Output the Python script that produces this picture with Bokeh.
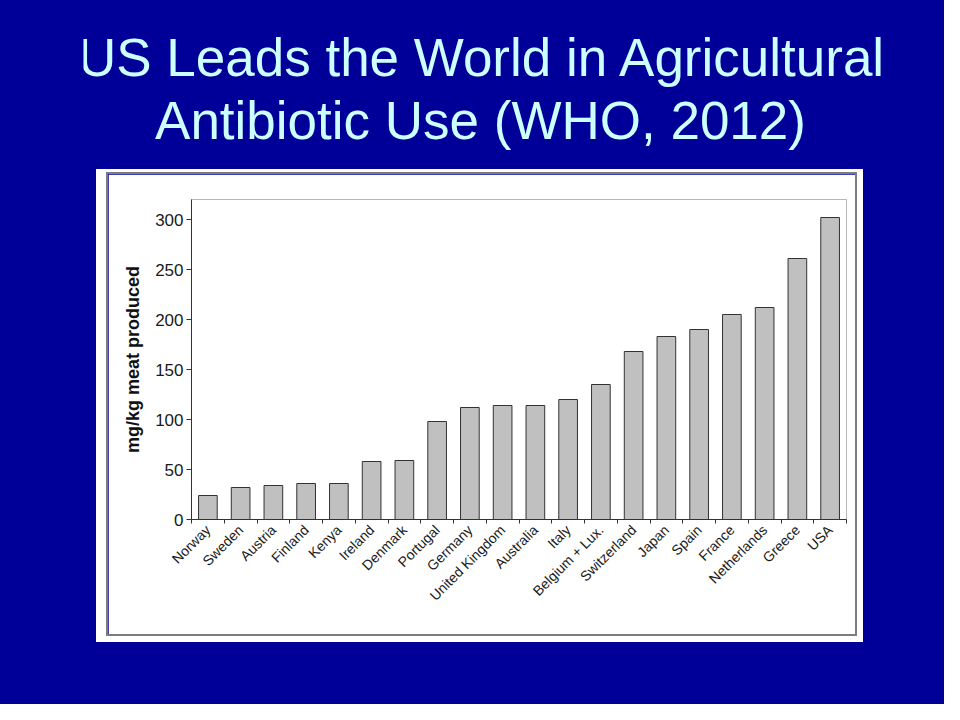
import math
from bokeh.plotting import figure
from bokeh.layouts import column
from bokeh.models import Range1d, FixedTicker, Label, ColumnDataSource
from bokeh.embed import file_html
from bokeh.resources import INLINE

# ---- data ----
countries = ["Norway", "Sweden", "Austria", "Finland", "Kenya", "Ireland", "Denmark",
             "Portugal", "Germany", "United Kingdom", "Australia", "Italy",
             "Belgium + Lux.", "Switzerland", "Japan", "Spain", "France",
             "Netherlands", "Greece", "USA"]
values = [24, 32, 34, 36, 36, 58, 59, 98, 112, 114, 114, 120, 135, 168, 183, 190,
          205, 212, 261, 302]
y_ticks = [0, 50, 100, 150, 200, 250, 300]
title_lines = ["US Leads the World in Agricultural", "Antibiotic Use (WHO, 2012)"]
y_label = "mg/kg meat produced"

SLIDE_BLUE = "#000099"
TITLE_COL = "#CCFFFF"
FONT = "Liberation Sans"
W, H = 944, 704

# ---- slide title (a figure whose frame is the blue strip) ----
CARD_L, CARD_T, CARD_R, CARD_B = 108, 174, 855, 634   # inside of the gray card border
title_h = CARD_T
tf = figure(width=W, height=title_h, output_backend="svg", toolbar_location=None,
            x_range=Range1d(0, W), y_range=Range1d(0, title_h),
            min_border=0, min_border_left=0, min_border_right=0,
            min_border_top=0, min_border_bottom=0)
tf.axis.visible = False
tf.grid.visible = False
tf.outline_line_color = None
tf.background_fill_color = SLIDE_BLUE
tf.border_fill_color = SLIDE_BLUE
# frame of the title strip sits at an offset inside the canvas (measured)
OFF_X, OFF_Y = 83, 18
for line, cx, base in zip(title_lines, [482, 480], [75, 138]):
    tf.add_layout(Label(x=cx - OFF_X, y=title_h - base + OFF_Y,
                        x_units="screen", y_units="screen",
                        text=line, text_align="center", text_baseline="alphabetic",
                        text_font=FONT, text_font_size="53px", text_color=TITLE_COL))

# ---- chart card ----
n = len(countries)
xs = list(range(n))
src = ColumnDataSource(dict(x=xs, top=values, name=countries))

FR_L, FR_T, FR_R, FR_B = 191, 199, 846, 519            # plot frame on the page
cw, ch = CARD_R - CARD_L, CARD_B - CARD_T
p = figure(width=cw, height=ch, output_backend="svg", toolbar_location=None,
           x_range=Range1d(-0.5, n - 0.5), y_range=Range1d(0, 320),
           min_border_left=FR_L - CARD_L, min_border_right=CARD_R - FR_R,
           min_border_top=FR_T - CARD_T, min_border_bottom=CARD_B - FR_B,
           margin=(0, W - CARD_R, H - CARD_B, CARD_L),
           styles={
               "box-shadow": "0 0 0 2px #7c7c7c, "
                             "-12px -5px 0 0 #ffffff, 8px -5px 0 0 #ffffff, "
                             "-12px 8px 0 0 #ffffff, 8px 8px 0 0 #ffffff",
           })
p.border_fill_color = "white"
p.background_fill_color = "white"
p.outline_line_color = "#b8b8b8"
p.outline_line_width = 1
p.xgrid.visible = False
p.ygrid.visible = False

p.vbar(x="x", top="top", width=0.57, bottom=0, source=src,
       fill_color="#C0C0C0", line_color="#333333", line_width=1)

# x axis: labels at category centres, tick marks between categories
xax = p.xaxis[0]
xax.ticker = FixedTicker(ticks=xs, minor_ticks=[i - 0.5 for i in range(n + 1)])
xax.major_label_overrides = {i: c for i, c in zip(xs, countries)}
xax.major_label_orientation = math.pi / 4
xax.major_tick_line_color = None
xax.minor_tick_in = 0
xax.minor_tick_out = 4
xax.minor_tick_line_color = "#333333"
xax.axis_line_color = "#333333"
xax.major_label_text_font = FONT
xax.major_label_text_font_size = "14px"
xax.major_label_text_color = "#1a1a1a"
xax.major_label_standoff = 2

# y axis
yax = p.yaxis[0]
yax.ticker = FixedTicker(ticks=y_ticks)
yax.minor_tick_line_color = None
yax.major_tick_in = 0
yax.major_tick_out = 5
yax.major_tick_line_color = "#333333"
yax.axis_line_color = "#333333"
yax.major_label_text_font = FONT
yax.major_label_text_font_size = "17px"
yax.major_label_text_color = "#1a1a1a"
yax.major_label_standoff = 3
yax.axis_label = y_label
yax.axis_label_text_font = FONT
yax.axis_label_text_font_style = "bold"
yax.axis_label_text_font_size = "18px"
yax.axis_label_text_color = "#111111"
yax.axis_label_standoff = 9

page = column(tf, p, spacing=0, styles={"background-color": SLIDE_BLUE})

open("out.html", "w").write(file_html(page, INLINE))
